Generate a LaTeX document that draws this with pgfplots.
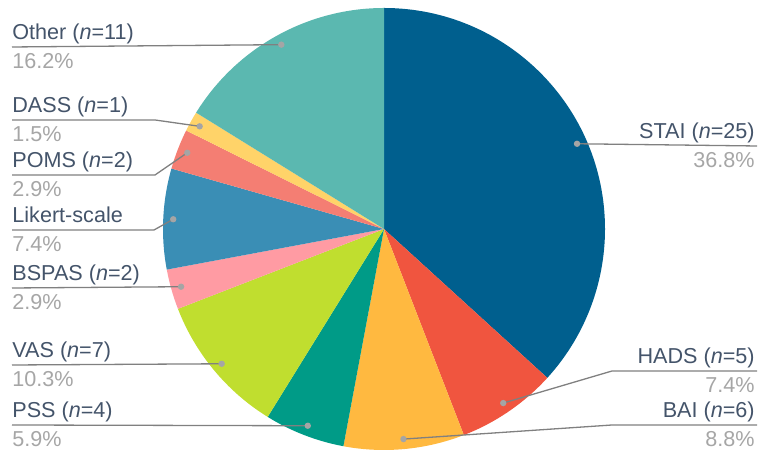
\documentclass[border=0pt]{standalone}
\usepackage{fontspec}
\setmainfont{Liberation Sans}
\usepackage{pgfplots}
\usepackage{pgfplotstable}
\pgfplotsset{compat=1.18}
\usetikzlibrary{calc}

\definecolor{pie0}{HTML}{005F8E}
\definecolor{pie1}{HTML}{F0553F}
\definecolor{pie2}{HTML}{FFB940}
\definecolor{pie3}{HTML}{009B87}
\definecolor{pie4}{HTML}{C0DE2F}
\definecolor{pie5}{HTML}{FF9BA3}
\definecolor{pie6}{HTML}{3A8EB5}
\definecolor{pie7}{HTML}{F47E73}
\definecolor{pie8}{HTML}{FFD369}
\definecolor{pie9}{HTML}{5BB8B0}
\definecolor{namecol}{HTML}{44546A}
\definecolor{pctcol}{HTML}{A6A6A6}
\definecolor{leadcol}{HTML}{808080}
\definecolor{dotcol}{HTML}{A5A5A5}

% clockwise from 12 o'clock
\pgfplotstableread{
label  n
STAI   25
HADS   5
BAI    6
PSS    4
VAS    7
BSPAS  2
Likert 5
POMS   2
DASS   1
Other  11
}\piedata

\newcommand{\nm}[1]{{\fontsize{10.8}{12}\selectfont\color{namecol}#1}}
\newcommand{\pc}[1]{{\fontsize{10.8}{12}\selectfont\color{pctcol}#1}}

\begin{document}
\begin{tikzpicture}
\begin{axis}[
    hide axis,
    x=0.5pt, y=0.5pt,
    xmin=0, xmax=764, ymin=0, ymax=458,
    clip=false,
]
\pgfplotsextra{
  \path (axis cs:0,0) rectangle (axis cs:764,458);
  % total count
  \xdef\total{0}
  \foreach \i in {0,...,9}{
    \pgfplotstablegetelem{\i}{n}\of\piedata
    \pgfmathsetmacro\t{\total+\pgfplotsretval}
    \xdef\total{\t}
  }
  % slices
  \xdef\cumangle{90}
  \foreach \i in {0,...,9}{
    \pgfplotstablegetelem{\i}{n}\of\piedata
    \pgfmathsetmacro\sweep{360*\pgfplotsretval/\total}
    \pgfmathsetmacro\endangle{\cumangle-\sweep}
    \pgfmathsetmacro\midangle{\cumangle-\sweep/2}
    \fill[pie\i] (axis cs:384,229) -- ++(\cumangle:110.5pt)
      arc[start angle=\cumangle, end angle=\endangle, radius=110.5pt] -- cycle;
    \coordinate (d\i) at ($(axis cs:384,229)+(\midangle:105.5pt)$);
    \xdef\cumangle{\endangle}
  }
  % leader lines
  \begin{scope}[leadcol, line width=0.65pt]
    \draw (d0) -- (axis cs:757,312);
    \draw (axis cs:757,87) -- (axis cs:612,87) -- (d1);
    \draw (axis cs:757,33) -- (axis cs:612,33) -- (d2);
    \draw (axis cs:12,33) -- (d3);
    \draw (axis cs:12,93) -- (d4);
    \draw (axis cs:12,170) -- (d5);
    \draw (axis cs:12,228) -- (axis cs:154,228) -- (d6);
    \draw (axis cs:12,283) -- (axis cs:155,283) -- (d7);
    \draw (axis cs:12,338) -- (axis cs:155,338) -- (d8);
    \draw (axis cs:12,411) -- (d9);
  \end{scope}
  \foreach \i in {0,...,9}{\fill[dotcol] (d\i) circle[radius=1.6pt];}
  % labels
  \node[anchor=base east, inner sep=0pt] at (axis cs:755,319) {\nm{STAI (\textit{n}=25)}};
  \node[anchor=base east, inner sep=0pt] at (axis cs:755,290) {\pc{36.8\%}};
  \node[anchor=base east, inner sep=0pt] at (axis cs:755,94) {\nm{HADS (\textit{n}=5)}};
  \node[anchor=base east, inner sep=0pt] at (axis cs:755,65) {\pc{7.4\%}};
  \node[anchor=base east, inner sep=0pt] at (axis cs:755,40) {\nm{BAI (\textit{n}=6)}};
  \node[anchor=base east, inner sep=0pt] at (axis cs:755,11) {\pc{8.8\%}};
  \node[anchor=base west, inner sep=0pt] at (axis cs:12,40) {\nm{PSS (\textit{n}=4)}};
  \node[anchor=base west, inner sep=0pt] at (axis cs:12,11) {\pc{5.9\%}};
  \node[anchor=base west, inner sep=0pt] at (axis cs:12,100) {\nm{VAS (\textit{n}=7)}};
  \node[anchor=base west, inner sep=0pt] at (axis cs:12,71) {\pc{10.3\%}};
  \node[anchor=base west, inner sep=0pt] at (axis cs:12,177) {\nm{BSPAS (\textit{n}=2)}};
  \node[anchor=base west, inner sep=0pt] at (axis cs:12,148) {\pc{2.9\%}};
  \node[anchor=base west, inner sep=0pt] at (axis cs:12,235) {\nm{Likert-scale}};
  \node[anchor=base west, inner sep=0pt] at (axis cs:12,206) {\pc{7.4\%}};
  \node[anchor=base west, inner sep=0pt] at (axis cs:12,290) {\nm{POMS (\textit{n}=2)}};
  \node[anchor=base west, inner sep=0pt] at (axis cs:12,261) {\pc{2.9\%}};
  \node[anchor=base west, inner sep=0pt] at (axis cs:12,345) {\nm{DASS (\textit{n}=1)}};
  \node[anchor=base west, inner sep=0pt] at (axis cs:12,316) {\pc{1.5\%}};
  \node[anchor=base west, inner sep=0pt] at (axis cs:12,418) {\nm{Other (\textit{n}=11)}};
  \node[anchor=base west, inner sep=0pt] at (axis cs:12,389) {\pc{16.2\%}};
}
\end{axis}
\end{tikzpicture}
\end{document}
